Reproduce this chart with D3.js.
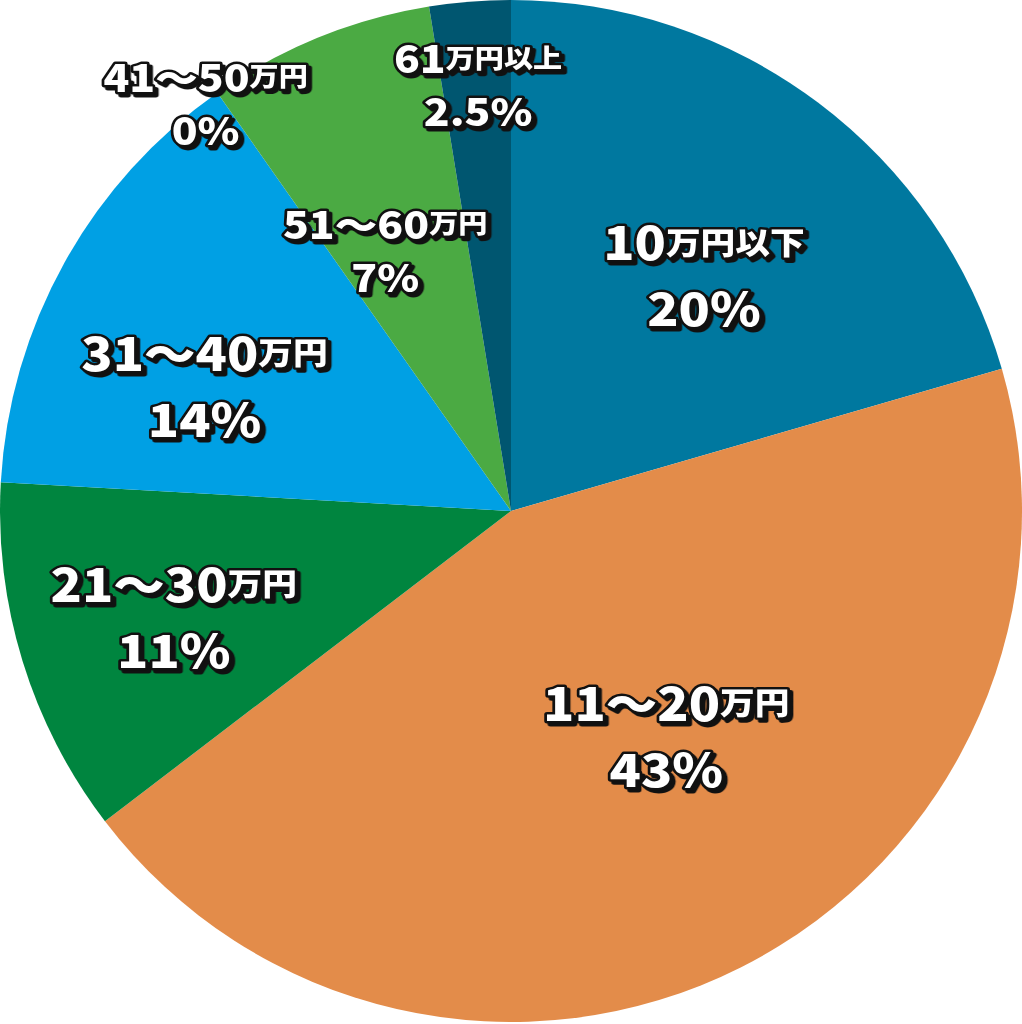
<!DOCTYPE html>
<html><head><meta charset="utf-8">
<script src="https://cdn.jsdelivr.net/npm/d3@7"></script>
<style>html,body{margin:0;padding:0;background:#fff;}svg{display:block;}
text.lab{paint-order:stroke fill;filter:drop-shadow(3px 3px 0 #111);}
</style>
</head><body>
<svg id="c" width="1022" height="1024"></svg>
<script>
const categories = ["10万円以下","11〜20万円","21〜30万円","31〜40万円","41〜50万円","51〜60万円","61万円以上"];
const values = [20, 43, 11, 14, 0, 7, 2.5];
const valueLabels = ["20%","43%","11%","14%","0%","7%","2.5%"];
const colors = ["#00789F","#E38C4A","#00853F","#00A0E4","#00A0E4","#4BAA43","#005670"];

// label placement: [radius fraction, angle (deg, clockwise from top)], size class
const labelPlace = [[0.60,39,1],[0.53,145,1],[0.69,253,1],[0.65,292.7,1],[1.0,323.3,0],[0.57,334.4,0],[0.84,355.6,0]];

const W=1022,H=1024,cx=511,cy=511,R=511;
const svg=d3.select("#c");
const g=svg.append("g").attr("transform",`translate(${cx},${cy})`);
const pie=d3.pie().sort(null).value(d=>d)(values);
const arc=d3.arc().innerRadius(0).outerRadius(R);
g.selectAll("path.s").data(pie).join("path").attr("class","s")
 .attr("d",arc).attr("fill",(d,i)=>colors[i]);

const font="'Noto Sans CJK JP','Noto Sans',sans-serif";
function splitLabel(s){
  const m=s.match(/^([0-9〜%.]+)(.*)$/);
  return m?[m[1],m[2]]:[s,""];
}
const lab=g.append("g");
categories.forEach((c,i)=>{
  const [rf,ang,big]=labelPlace[i];
  const a=ang*Math.PI/180;
  const x=Math.sin(a)*R*rf, y=-Math.cos(a)*R*rf;
  const fs1=big?46:38, fs2=big?31:26;
  const lines=[c,valueLabels[i]];
  const gap=big?66:53;
  lines.forEach((ln,j)=>{
    const yy=y+(j-0.5)*gap;
    const [a1,a2]=splitLabel(ln);
    const t=lab.append("text").attr("class","lab").attr("x",x).attr("y",yy)
      .attr("text-anchor","middle").attr("dominant-baseline","central")
      .attr("font-family",font).attr("font-weight",900)
      .attr("fill","#fff").attr("stroke","#111").attr("stroke-width",5)
      .attr("stroke-linejoin","round")
      .attr("transform",`translate(${x},${yy}) scale(1.12,1) translate(${-x},${-yy})`);
    t.append("tspan").attr("font-size",fs1).text(a1);
    if(a2) t.append("tspan").attr("font-size",fs2).text(a2);
  });
});
</script>
</body></html>
